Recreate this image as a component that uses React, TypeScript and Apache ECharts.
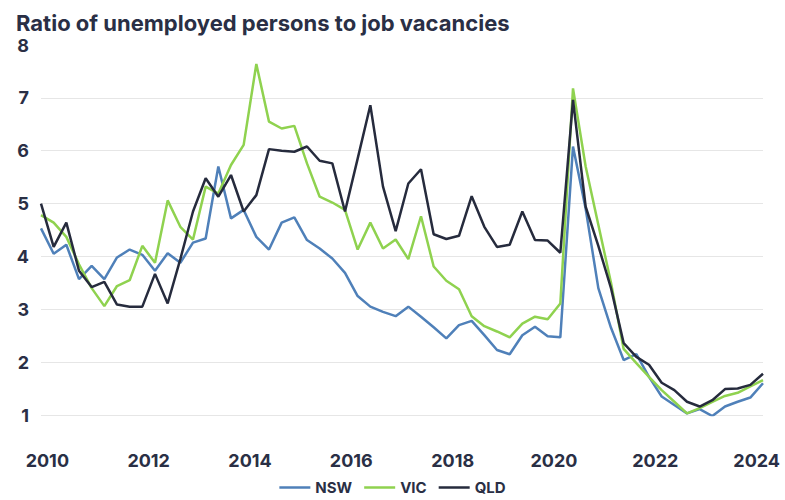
import React, { useEffect, useRef } from 'react';
import * as echarts from 'echarts';

const TITLE = 'Ratio of unemployed persons to job vacancies';

const dates = [
  '2009-11',
  '2010-02', '2010-05', '2010-08', '2010-11',
  '2011-02', '2011-05', '2011-08', '2011-11',
  '2012-02', '2012-05', '2012-08', '2012-11',
  '2013-02', '2013-05', '2013-08', '2013-11',
  '2014-02', '2014-05', '2014-08', '2014-11',
  '2015-02', '2015-05', '2015-08', '2015-11',
  '2016-02', '2016-05', '2016-08', '2016-11',
  '2017-02', '2017-05', '2017-08', '2017-11',
  '2018-02', '2018-05', '2018-08', '2018-11',
  '2019-02', '2019-05', '2019-08', '2019-11',
  '2020-02', '2020-05', '2020-08', '2020-11',
  '2021-02', '2021-05', '2021-08', '2021-11',
  '2022-02', '2022-05', '2022-08', '2022-11',
  '2023-02', '2023-05', '2023-08', '2023-11',
  '2024-02',
];

const nsw = [
  4.53, 4.05, 4.22, 3.57, 3.82, 3.57, 3.98, 4.13, 4.03, 3.73,
  4.06, 3.88, 4.26, 4.34, 5.70, 4.72, 4.88, 4.37, 4.13, 4.64,
  4.74, 4.31, 4.15, 3.96, 3.69, 3.25, 3.05, 2.95, 2.87, 3.05,
  2.86, 2.66, 2.45, 2.70, 2.78, 2.51, 2.23, 2.15, 2.51, 2.67,
  2.49, 2.47, 6.08, 4.90, 3.40, 2.65, 2.04, 2.15, 1.72, 1.35,
  1.19, 1.03, 1.11, 0.98, 1.16, 1.25, 1.33, 1.60,
];

const vic = [
  4.78, 4.64, 4.37, 3.85, 3.40, 3.06, 3.44, 3.55, 4.20, 3.88,
  5.06, 4.56, 4.32, 5.32, 5.19, 5.73, 6.11, 7.64, 6.55, 6.42,
  6.47, 5.76, 5.13, 5.02, 4.88, 4.13, 4.64, 4.15, 4.32, 3.95,
  4.76, 3.81, 3.54, 3.38, 2.87, 2.68, 2.58, 2.47, 2.73, 2.86,
  2.81, 3.11, 7.18, 5.70, 4.60, 3.50, 2.25, 1.98, 1.72, 1.47,
  1.25, 1.03, 1.13, 1.25, 1.36, 1.42, 1.54, 1.66,
];

const qld = [
  5.00, 4.18, 4.64, 3.73, 3.42, 3.52, 3.09, 3.05, 3.05, 3.67,
  3.11, 3.95, 4.85, 5.48, 5.13, 5.54, 4.85, 5.16, 6.03, 6.00,
  5.98, 6.08, 5.81, 5.76, 4.85, 5.85, 6.86, 5.32, 4.48, 5.38,
  5.65, 4.42, 4.33, 4.39, 5.14, 4.56, 4.18, 4.22, 4.85, 4.31,
  4.30, 4.07, 6.96, 4.94, 4.20, 3.40, 2.36, 2.10, 1.95, 1.61,
  1.47, 1.25, 1.16, 1.28, 1.49, 1.50, 1.57, 1.78,
];

const seriesNames = ['NSW', 'VIC', 'QLD'];
const seriesColors = ['#4f80b9', '#8fd24f', '#262b3d'];

const toYear = (s: string) => {
  const [y, m] = s.split('-').map(Number);
  return y + (m - 0.5) / 12;
};

const FONT = 'Inter, "Noto Sans", sans-serif';
const TEXT = '#2a2f45';

export default function App() {
  const ref = useRef<HTMLDivElement>(null);
  useEffect(() => {
    if (!ref.current) return;
    const chart = echarts.init(ref.current, undefined, { renderer: 'svg' });
    const xs = dates.map(toYear);
    const build = (vals: number[]) => vals.map((v, i) => [xs[i], v]);
    const all = [nsw, vic, qld];
    chart.setOption({
      animation: false,
      backgroundColor: '#ffffff',
      title: {
        text: TITLE,
        left: 11,
        top: 7,
        textStyle: { fontFamily: FONT, fontWeight: 700, fontSize: 22, color: TEXT },
      },
      legend: {
        bottom: 0,
        left: 'center',
        icon: 'rect',
        itemWidth: 31,
        itemHeight: 2.5,
        itemGap: 12,
        data: seriesNames,
        textStyle: { fontFamily: FONT, fontWeight: 700, fontSize: 15, color: TEXT },
      },
      grid: { left: 41, right: 22, top: 45, bottom: 85, containLabel: false },
      xAxis: {
        type: 'value',
        min: xs[0],
        max: xs[xs.length - 1],
        splitNumber: 7,
        axisLine: { show: false },
        axisTick: { show: false },
        splitLine: { show: false },
        axisLabel: {
          margin: 36,
          fontFamily: FONT,
          fontWeight: 700,
          fontSize: 18,
          color: TEXT,
          formatter: (v: number) => (Number.isInteger(v) && v % 2 === 0 ? String(v) : ''),
        },
      },
      yAxis: {
        type: 'value',
        min: 1,
        max: 8,
        interval: 1,
        axisLine: { show: false },
        axisTick: { show: false },
        axisLabel: {
          margin: 12,
          fontFamily: FONT,
          fontWeight: 700,
          fontSize: 18,
          color: TEXT,
        },
        splitLine: {
          lineStyle: {
            color: ['#e6e6e6', '#e6e6e6', '#e6e6e6', '#e6e6e6', '#e6e6e6', '#e6e6e6', '#e6e6e6', 'rgba(0,0,0,0)'],
            width: 1,
          },
        },
      },
      series: seriesNames.map((name, k) => ({
        name,
        type: 'line',
        data: build(all[k]),
        showSymbol: false,
        symbol: 'none',
        lineStyle: { width: 2.5, color: seriesColors[k] },
        itemStyle: { color: seriesColors[k] },
      })),
    });
    return () => chart.dispose();
  }, []);
  return (
    <div
      ref={ref}
      style={{ position: 'fixed', left: 0, top: 0, width: 785, height: 500 }}
    />
  );
}
